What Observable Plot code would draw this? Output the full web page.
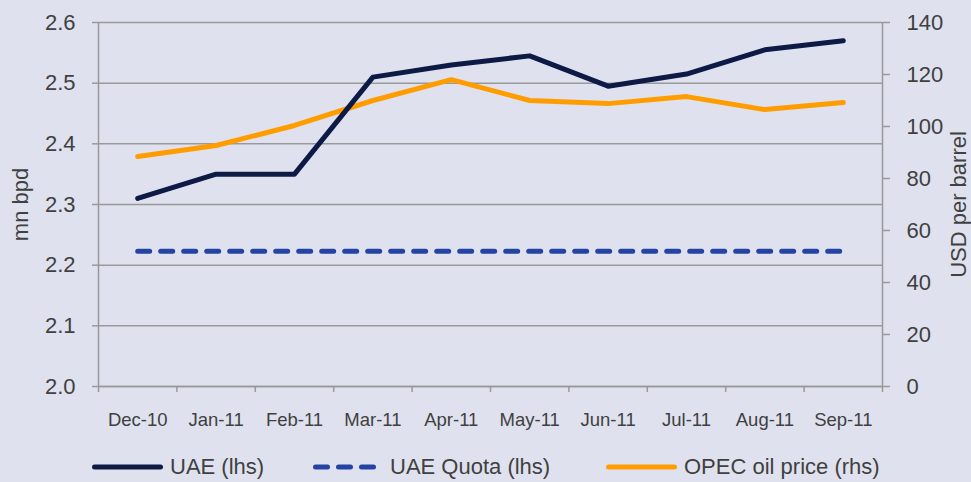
<!DOCTYPE html>
<html>
<head>
<meta charset="utf-8">
<script src="https://cdn.jsdelivr.net/npm/d3@7"></script>
<script src="https://cdn.jsdelivr.net/npm/@observablehq/plot@0.6"></script>
<style>
  html, body { margin: 0; padding: 0; background: #dfe2ee; width: 971px; height: 482px; overflow: hidden; }
  #chart svg { display: block; }
  #legend { position: relative; width: 971px; height: 42px; font-family: "Liberation Sans", Arial, sans-serif; font-size: 22px; color: #404040; }
  .item { position: absolute; top: 13px; height: 28px; display: flex; align-items: center; white-space: nowrap; }
  .item svg { display: block; margin-right: 7px; }
</style>
</head>
<body>
<div id="chart"></div>
<div id="legend"></div>
<script>
const months = ["Dec-10","Jan-11","Feb-11","Mar-11","Apr-11","May-11","Jun-11","Jul-11","Aug-11","Sep-11"];
const uae = [2.31, 2.35, 2.35, 2.51, 2.53, 2.545, 2.495, 2.515, 2.555, 2.57];
const quota = [2.223, 2.223, 2.223, 2.223, 2.223, 2.223, 2.223, 2.223, 2.223, 2.223];
const oilPrice = [88.5, 92.7, 100.4, 110, 118, 110, 108.8, 111.5, 106.5, 109.2];
const leftTicks = [2.0, 2.1, 2.2, 2.3, 2.4, 2.5, 2.6];
const rightTicks = [0, 20, 40, 60, 80, 100, 120, 140];

const seriesNames = ["UAE (lhs)", "UAE Quota (lhs)", "OPEC oil price (rhs)"];
const colors = ["#0c1a45", "#2443a3", "#ff9d00"];

const lMin = 2.0, lMax = 2.6, rMin = 0, rMax = 140;
const toL = v => lMin + (v - rMin) / (rMax - rMin) * (lMax - lMin);
const fromL = v => rMin + (v - lMin) / (lMax - lMin) * (rMax - rMin);

const idx = d3.range(months.length);
const rows = idx.map(i => ({i, uae: uae[i], quota: quota[i], oil: toL(oilPrice[i])}));

const grey = "#999999";
const font = "'Liberation Sans', Arial, sans-serif";

const chart = Plot.plot({
  width: 971,
  height: 440,
  marginLeft: 98,
  marginRight: 89,
  marginTop: 22,
  marginBottom: 54,
  style: {background: "#dfe2ee", fontFamily: font, color: "#404040", overflow: "visible"},
  x: {type: "linear", domain: [-0.5, months.length - 0.5], axis: null},
  y: {domain: [lMin, lMax], axis: null},
  marks: [
    Plot.gridY(leftTicks, {stroke: grey, strokeOpacity: 1, strokeWidth: 1.5}),
    Plot.ruleX([-0.5, months.length - 0.5], {stroke: grey, strokeWidth: 1.5}),
    Plot.ruleY([lMin], {stroke: grey, strokeWidth: 1.5}),
    Plot.axisY(leftTicks, {anchor: "left", tickSize: 6, tickPadding: 17, fontSize: 22, stroke: grey, strokeWidth: 1.5, fill: "#404040",
      tickFormat: d3.format(".1f"), label: "mn bpd", labelAnchor: "center", labelArrow: "none", labelOffset: 86}),
    Plot.axisY(rightTicks.map(toL), {anchor: "right", tickSize: 7, tickPadding: 17, fontSize: 22, stroke: grey, strokeWidth: 1.5, fill: "#404040",
      tickFormat: d => String(Math.round(fromL(d))), label: "USD per barrel", labelAnchor: "center", labelArrow: "none", labelOffset: 83}),
    Plot.axisX(idx, {anchor: "bottom", tickSize: 0, tickPadding: 26, fontSize: 18.5, fill: "#404040", tickFormat: i => months[i], label: null}),
    Plot.axisX(d3.range(-0.5, months.length, 1), {anchor: "bottom", tickSize: 6, stroke: grey, strokeWidth: 1.5, tickFormat: () => "", label: null}),
    Plot.line(rows, {x: "i", y: "quota", stroke: colors[1], strokeWidth: 5, strokeDasharray: "12,11", strokeLinecap: "round"}),
    Plot.line(rows, {x: "i", y: "oil", stroke: colors[2], strokeWidth: 5, strokeLinecap: "round", strokeLinejoin: "round"}),
    Plot.line(rows, {x: "i", y: "uae", stroke: colors[0], strokeWidth: 5, strokeLinecap: "round", strokeLinejoin: "round"})
  ]
});
document.getElementById("chart").appendChild(chart);

// legend
const legend = d3.select("#legend");
const legendItems = [
  {name: seriesNames[0], color: colors[0], left: 92, w: 71, dash: null},
  {name: seriesNames[1], color: colors[1], left: 313, w: 70, dash: "12,11"},
  {name: seriesNames[2], color: colors[2], left: 606, w: 71, dash: null}
];
for (const it of legendItems) {
  const div = legend.append("div").attr("class", "item").style("left", it.left + "px");
  const s = div.append("svg").attr("width", it.w).attr("height", 10);
  s.append("line").attr("x1", 2.5).attr("x2", it.w - 2.5).attr("y1", 5).attr("y2", 5)
    .attr("stroke", it.color).attr("stroke-width", 5).attr("stroke-linecap", "round")
    .attr("stroke-dasharray", it.dash);
  div.append("span").text(it.name);
}
</script>
</body>
</html>
